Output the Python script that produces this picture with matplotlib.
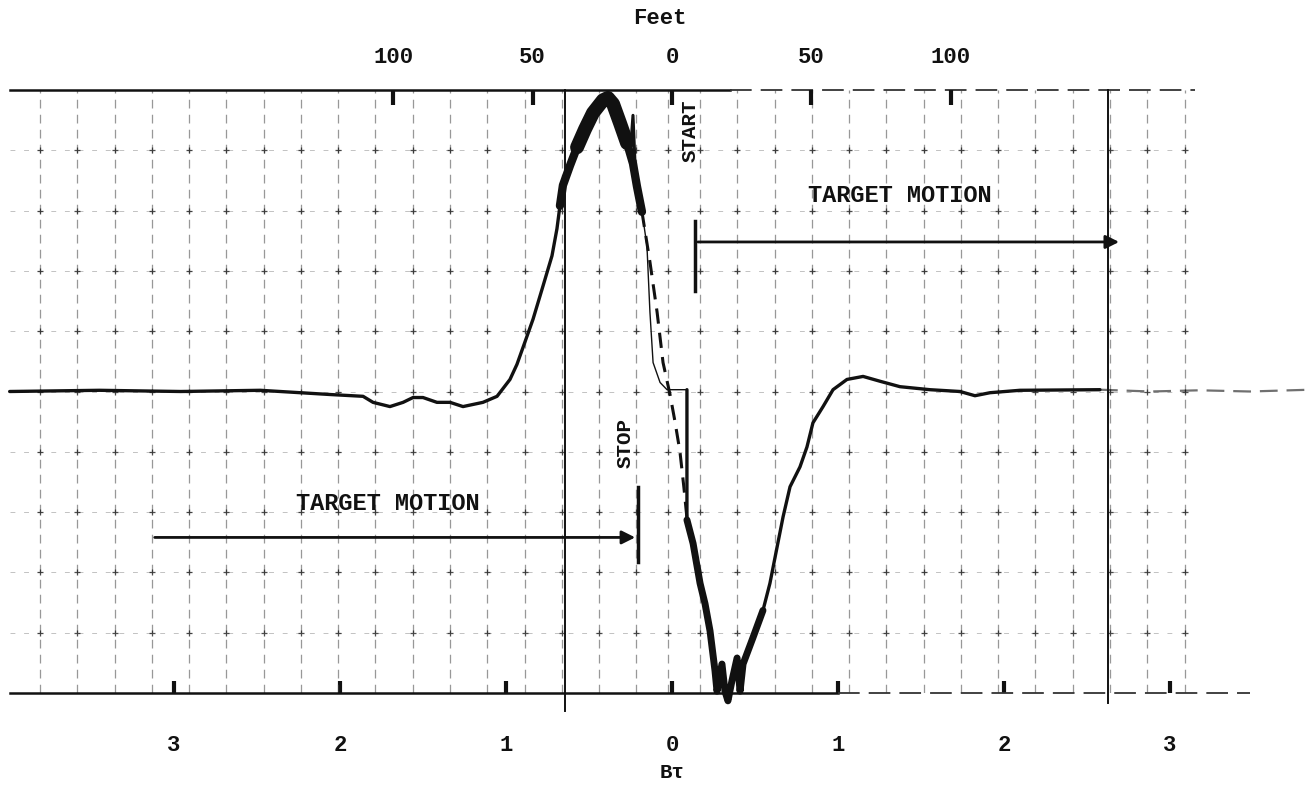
import numpy as np
import matplotlib.pyplot as plt

# main recorded trace (B*tau, signed; amplitude in grid divisions)
trace_x = [-3.99, -3.45, -2.96, -2.48, -2.06, -1.861, -1.801, -1.699, -1.62, -1.56, -1.5,
           -1.416, -1.337, -1.259, -1.139, -1.054, -0.976, -0.934, -0.886, -0.837, -0.777,
           -0.723, -0.693, -0.675, -0.657, -0.614, -0.572, -0.524, -0.476, -0.416, -0.386,
           -0.355, -0.313, -0.271, -0.235, -0.211, -0.181]
trace_y = [0.0, 0.02, 0.0, 0.02, -0.05, -0.08, -0.18, -0.25, -0.18, -0.1, -0.1,
           -0.18, -0.18, -0.25, -0.18, -0.08, 0.2, 0.45, 0.82, 1.2, 1.75,
           2.25, 2.7, 3.08, 3.42, 3.75, 4.05, 4.35, 4.62, 4.83, 4.87,
           4.77, 4.45, 4.12, 3.78, 3.4, 2.98]

# narrow spike on the falling side of the peak
spike_x = [-0.253, -0.235, -0.22]
spike_y = [3.9, 4.58, 3.6]

# thin part of the trace running into the zero line
thin_x = [-0.181, -0.151, -0.133, -0.114, -0.072, -0.03, 0.09]
thin_y = [2.98, 2.42, 1.32, 0.48, 0.15, 0.03, 0.03]

# negative lobe and tail
drop_x = [0.09, 0.09, 0.127, 0.169, 0.199, 0.229, 0.259, 0.271, 0.301, 0.319, 0.337,
          0.361, 0.392, 0.41, 0.428, 0.488, 0.548, 0.59, 0.633, 0.669, 0.711, 0.771,
          0.813, 0.849, 0.91, 0.97, 1.054, 1.151, 1.253, 1.373, 1.554, 1.735, 1.825,
          1.916, 2.096, 2.578]
drop_y = [0.03, -2.13, -2.52, -3.18, -3.52, -3.97, -4.63, -4.97, -4.52, -4.97, -5.13,
          -4.8, -4.42, -4.97, -4.52, -4.08, -3.63, -3.18, -2.58, -2.08, -1.58, -1.25,
          -0.92, -0.52, -0.25, 0.03, 0.2, 0.25, 0.17, 0.08, 0.03, 0.0, -0.07,
          -0.02, 0.02, 0.03]

tail_x = [2.578, 2.88, 3.18, 3.48, 3.85]
tail_y = [0.03, 0.0, 0.02, 0.0, 0.03]

# dashed (interpolated) curve
dash_x = [-0.181, -0.133, -0.09, -0.054, -0.012, 0.018, 0.048, 0.072, 0.09]
dash_y = [2.98, 2.15, 1.32, 0.48, -0.05, -0.5, -1.0, -1.6, -2.1]

bt_ticks = [-3, -2, -1, 0, 1, 2, 3]
feet_ticks = [-100, -50, 0, 50, 100]
bt_per_foot = 0.0168

start_x, stop_x = 0.139, -0.205
upper_arrow = (start_x, 2.71, 2.48)   # x0, x1, y
lower_arrow = (-3.133, stop_x, -2.42)

fig = plt.figure(figsize=(13.11, 7.87), dpi=100)
ax = fig.add_axes([0, 1 - 693 / 787, 1, 603 / 787])
ax.set_xlim(-672 / 166, (1311 - 672) / 166)
ax.set_ylim(-5, 5)
for s in ax.spines.values():
    s.set_visible(False)

font = 'Liberation Mono'
ink = '#111111'

# grid
gx_left = np.arange(-3.807, -0.2, 0.2245)
gx_right = np.arange(0.169, 3.2, 0.2245)
gx = np.concatenate([gx_left, [-0.024], gx_right])
for x in gx:
    ax.plot([x, x], [-5, 5], color='#444444', lw=0.9, ls=(0, (7, 5)), alpha=0.55)
for y in range(-4, 5):
    ax.plot([-3.99, 3.1], [y, y], color='#777777', lw=0.7, ls=(0, (5, 9)), alpha=0.45)
gxx, gyy = np.meshgrid(gx, np.arange(-4, 5))
ax.plot(gxx.ravel(), gyy.ravel(), '+', color='#222222', ms=4, mew=0.9, alpha=0.8)

# frame lines
ax.plot([-3.99, 0.35], [5, 5], color=ink, lw=1.8, clip_on=False)
ax.plot([0.35, 3.15], [5, 5], color='#333333', lw=1.3, ls=(0, (12, 5)), clip_on=False)
ax.plot([-3.99, 1.0], [-5, -5], color=ink, lw=1.8, clip_on=False)
ax.plot([1.0, 3.48], [-5, -5], color='#333333', lw=1.3, ls=(0, (12, 5)), clip_on=False)
ax.plot([-0.645, -0.645], [5, -5.3], color=ink, lw=1.4, clip_on=False)
ax.plot([2.627, 2.627], [5, -5.17], color=ink, lw=1.4, clip_on=False)

# traces
ax.plot(trace_x, trace_y, color=ink, lw=2.4, clip_on=False, solid_capstyle='round')
ax.plot(trace_x[23:], trace_y[23:], color=ink, lw=6, clip_on=False, solid_capstyle='round')
ax.plot(trace_x[26:34], trace_y[26:34], color=ink, lw=10, clip_on=False, solid_capstyle='round')
ax.plot(spike_x, spike_y, color=ink, lw=2.2)
ax.plot(thin_x, thin_y, color=ink, lw=1.0)
ax.plot(drop_x, drop_y, color=ink, lw=2.4, clip_on=False, solid_capstyle='round')
ax.plot(drop_x[1:17], drop_y[1:17], color=ink, lw=5, clip_on=False, solid_capstyle='round')
ax.plot(tail_x, tail_y, color=ink, lw=1.6, alpha=0.6, ls=(0, (8, 4)), clip_on=False)
ax.plot(dash_x, dash_y, color=ink, lw=2.2, ls=(0, (5, 3)))

# target motion arrows
ax.annotate('', xy=(upper_arrow[1], upper_arrow[2]), xytext=(upper_arrow[0], upper_arrow[2]),
            arrowprops=dict(arrowstyle='-|>', color=ink, lw=2, mutation_scale=20))
ax.plot([start_x, start_x], [2.83, 1.67], color=ink, lw=2.5)
ax.annotate('', xy=(lower_arrow[1], lower_arrow[2]), xytext=(lower_arrow[0], lower_arrow[2]),
            arrowprops=dict(arrowstyle='-|>', color=ink, lw=2, mutation_scale=20))
ax.plot([stop_x, stop_x], [-1.58, -2.83], color=ink, lw=2.5)

ax.text(1.373, 3.25, 'TARGET MOTION', fontsize=17, fontweight='bold', family=font,
        ha='center', va='center', color=ink)
ax.text(-1.711, -1.85, 'TARGET MOTION', fontsize=17, fontweight='bold', family=font,
        ha='center', va='center', color=ink)
ax.text(0.108, 4.32, 'START', fontsize=15, fontweight='bold', family=font,
        ha='center', va='center', rotation=90, color=ink)
ax.text(-0.283, -0.85, 'STOP', fontsize=15, fontweight='bold', family=font,
        ha='center', va='center', rotation=90, color=ink)

# bottom B*tau axis
ax.set_yticks([])
ax.set_xticks(bt_ticks)
ax.set_xticklabels([str(abs(t)) for t in bt_ticks], fontsize=16, fontweight='bold', family=font)
ax.tick_params(axis='x', direction='in', length=9, width=3, pad=30, colors=ink)

# top feet axis
top = ax.twiny()
top.set_xlim(ax.get_xlim())
for s in top.spines.values():
    s.set_visible(False)
top.set_xticks([f * bt_per_foot for f in feet_ticks])
top.set_xticklabels([str(abs(f)) for f in feet_ticks], fontsize=16, fontweight='bold', family=font)
top.tick_params(axis='x', direction='in', length=11, width=3, pad=16, colors=ink)

fig.text(660 / 1311, 1 - 18 / 787, 'Feet', fontsize=16, fontweight='bold', family=font,
         ha='center', va='center', color=ink)
fig.text(672 / 1311, 1 - 772 / 787, 'B\u03c4', fontsize=15, fontweight='bold', family=font,
         ha='center', va='center', color=ink)

fig.savefig('out.png', dpi=100, facecolor='white')
